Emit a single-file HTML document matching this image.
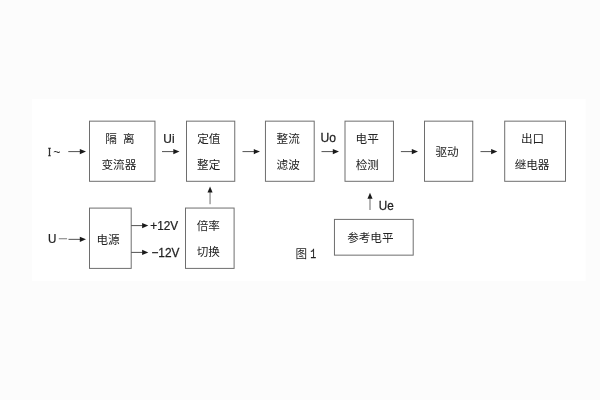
<!DOCTYPE html>
<html lang="zh"><head><meta charset="utf-8"><title>图 1</title>
<style>
html,body{margin:0;padding:0;}
body{width:600px;height:400px;overflow:hidden;background:#fcfcfc;font-family:"Liberation Sans",sans-serif;}
svg{display:block;will-change:transform;}
text{fill:#222;}
</style></head>
<body>
<svg width="600" height="400" viewBox="0 0 600 400" role="img" aria-labelledby="t d">
<title id="t">图 1</title>
<desc id="d">I~ → 隔离变流器 → Ui → 定值整定 → 整流滤波 → Uo → 电平检测 → 驱动 → 出口继电器；U → 电源 → +12V / −12V；倍率切换 → 定值整定；参考电平 → Ue → 电平检测</desc>
<rect x="0" y="0" width="600" height="400" fill="#fcfcfc"/>
<rect x="32" y="99" width="553.5" height="182" fill="#fff"/>
<g fill="none" stroke="#6e6e6e" stroke-width="1">
<rect x="89.5" y="121.15" width="65.45" height="60.15"/>
<rect x="186.5" y="121.15" width="48.25" height="60.15"/>
<rect x="265.45" y="121.15" width="48.75" height="60.15"/>
<rect x="345" y="121.15" width="48.45" height="60.15"/>
<rect x="424.5" y="121.15" width="48.25" height="60.15"/>
<rect x="504.7" y="121.15" width="60.8" height="60.15"/>
<rect x="89.5" y="208.1" width="41.7" height="60.3"/>
<rect x="185.5" y="208.05" width="48.6" height="60.35"/>
<rect x="334.45" y="219.4" width="78.75" height="35.75"/>
</g>
<g stroke="#525252" stroke-width="1" fill="none">
<path d="M68.3 151.6H80.3"/>
<path d="M162 151.6H173.8"/>
<path d="M242.5 151.6H254.3"/>
<path d="M321.5 151.6H333.3"/>
<path d="M400.9 151.6H412.3"/>
<path d="M480.5 151.6H491.6"/>
<path d="M68.5 239.35H80.3"/>
<path d="M131.2 225.6H142.6"/>
<path d="M131.2 252.4H142.6"/>
<path stroke-width=".85" d="M210.05 204.2V192.1"/>
<path stroke-width=".85" d="M370 210V198.35"/>
</g>
<g fill="#1a1a1a">
<path d="M86 151.6L79.8 149.05L79.8 154.15Z"/>
<path d="M179.5 151.6L173.3 149.05L173.3 154.15Z"/>
<path d="M260 151.6L253.8 149.05L253.8 154.15Z"/>
<path d="M339 151.6L332.8 149.05L332.8 154.15Z"/>
<path d="M418 151.6L411.8 149.05L411.8 154.15Z"/>
<path d="M497.3 151.6L491.1 149.05L491.1 154.15Z"/>
<path d="M86 239.35L79.8 236.8L79.8 241.9Z"/>
<path d="M148.3 225.6L142.1 223.05L142.1 228.15Z"/>
<path d="M148.3 252.4L142.1 249.85L142.1 254.95Z"/>
<path d="M210.05 186.4L207.5 192.6L212.6 192.6Z"/>
<path d="M370 192.65L367.45 198.85L372.55 198.85Z"/>
</g>
<path d="M58.8 238.75H67.1" stroke="#7a7a7a" stroke-width="1" fill="none"/>
<g fill="#222" font-size="11.6" font-family="'Liberation Sans', 'Noto Sans CJK SC', sans-serif">
<text x="105.16" y="142.91">隔</text>
<text x="123.09" y="142.91">离</text>
<text x="101.47" y="168.56">变流器</text>
<text x="197.13" y="142.91">定值</text>
<text x="197.08" y="168.56">整定</text>
<text x="276.58" y="142.91">整流</text>
<text x="276.59" y="168.56">滤波</text>
<text x="355.62" y="142.91">电平</text>
<text x="355.65" y="168.56">检测</text>
<text x="435.42" y="156.46">驱动</text>
<text x="520.89" y="142.66">出口</text>
<text x="514.68" y="168.66">继电器</text>
<text x="96.52" y="243.66">电源</text>
<text x="196.72" y="230.06">倍率</text>
<text x="196.72" y="256.01">切换</text>
<text x="347.13" y="242.21">参考电平</text>
<text x="295.38" y="258.21">图</text>
</g>
<text x="48.1" y="156.2" font-size="13.2" font-family="'Liberation Serif', serif" transform="translate(48.1 0) scale(0.68 1) translate(-48.1 0)" stroke="#222" stroke-width=".55">I</text>
<text x="53.2" y="156.35" font-size="12.2" font-family="'Liberation Sans', sans-serif" transform="translate(53.2 0) scale(1.02 1) translate(-53.2 0)">~</text>
<text x="163.3" y="142.7" font-size="12.8" font-family="'Liberation Sans', sans-serif" transform="translate(163.3 0) scale(0.93 1) translate(-163.3 0)" stroke="#222" stroke-width=".25">Ui</text>
<text x="320.5" y="142.1" font-size="12.8" font-family="'Liberation Sans', sans-serif" transform="translate(320.5 0) scale(0.95 1) translate(-320.5 0)" stroke="#222" stroke-width=".25">Uo</text>
<text x="378.7" y="210.3" font-size="12.5" font-family="'Liberation Sans', sans-serif" transform="translate(378.7 0) scale(0.935 1) translate(-378.7 0)" stroke="#222" stroke-width=".25">Ue</text>
<text x="47.9" y="243.3" font-size="12.5" font-family="'Liberation Sans', sans-serif" transform="translate(47.9 0) scale(0.93 1) translate(-47.9 0)" stroke="#222" stroke-width=".25">U</text>
<text x="150.3" y="229.8" font-size="12.7" font-family="'Liberation Sans', sans-serif" transform="translate(150.3 0) scale(0.93 1) translate(-150.3 0)" stroke="#222" stroke-width=".25">+12V</text>
<text x="151.4" y="256.55" font-size="12.7" font-family="'Liberation Sans', sans-serif" transform="translate(151.4 0) scale(0.935 1) translate(-151.4 0)" stroke="#222" stroke-width=".25">−12V</text>
<text x="310.3" y="258.1" font-size="12.6" font-family="'Liberation Mono', sans-serif" transform="translate(310.3 0) scale(0.78 1) translate(-310.3 0)" stroke="#222" stroke-width=".25">1</text>
</svg>
</body></html>
